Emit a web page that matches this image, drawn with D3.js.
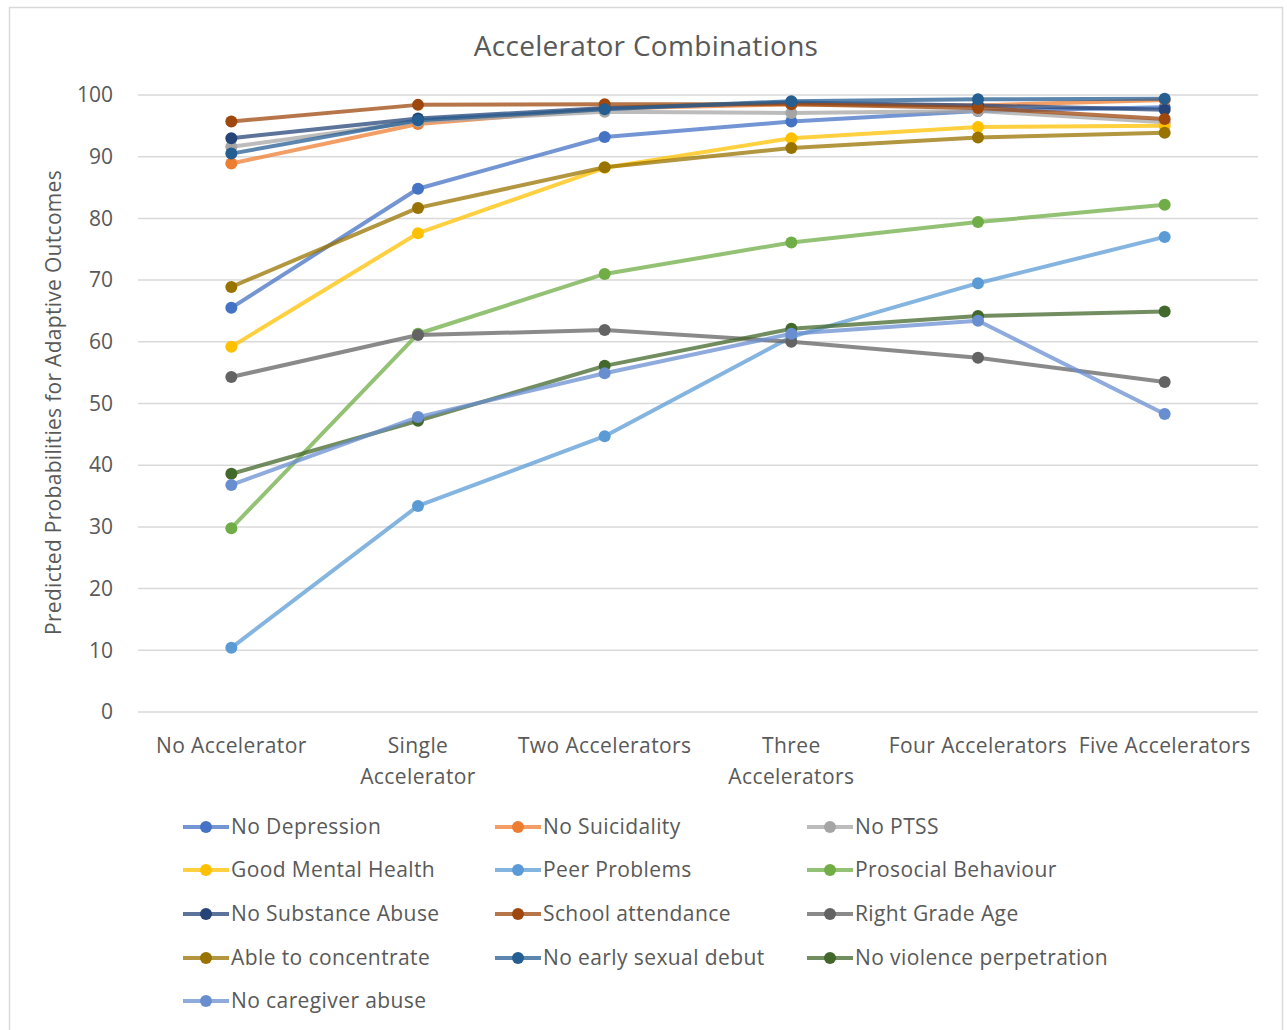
<!DOCTYPE html>
<html>
<head>
<meta charset="utf-8">
<script src="https://cdn.jsdelivr.net/npm/d3@7"></script>
<style>
  html, body { margin: 0; padding: 0; background: #fff; }
  svg { display: block; }
  text { font-family: "Open Sans", "Noto Sans", sans-serif; fill: #595959; }
</style>
</head>
<body>
<svg id="chart" width="1287" height="1030"></svg>
<script>
// Accelerator combinations on the x axis
const categories = [
  "No Accelerator", "Single Accelerator", "Two Accelerators",
  "Three Accelerators", "Four Accelerators", "Five Accelerators"
];
// How each category label wraps
const categoryLines = [
  ["No Accelerator"], ["Single", "Accelerator"], ["Two Accelerators"],
  ["Three", "Accelerators"], ["Four Accelerators"], ["Five Accelerators"]
];

const seriesNames = [
  "No Depression", "No Suicidality", "No PTSS",
  "Good Mental Health", "Peer Problems", "Prosocial Behaviour",
  "No Substance Abuse", "School attendance", "Right Grade Age",
  "Able to concentrate", "No early sexual debut", "No violence perpetration",
  "No caregiver abuse"
];

// Predicted probabilities (%) per series, one value per category
const noDepression      = [65.5, 84.8, 93.2, 95.7, 97.4, 98.0];
const noSuicidality     = [88.9, 95.3, 97.8, 98.5, 98.3, 99.2];
const noPTSS            = [91.6, 95.7, 97.3, 97.1, 97.4, 95.6];
const goodMentalHealth  = [59.2, 77.6, 88.2, 93.0, 94.8, 95.0];
const peerProblems      = [10.4, 33.4, 44.7, 60.8, 69.5, 77.0];
const prosocial         = [29.8, 61.3, 71.0, 76.1, 79.4, 82.2];
const noSubstanceAbuse  = [93.0, 96.2, 97.9, 98.8, 98.3, 97.6];
const schoolAttendance  = [95.7, 98.4, 98.5, 98.5, 97.9, 96.1];
const rightGradeAge     = [54.3, 61.1, 61.9, 60.0, 57.4, 53.5];
const ableToConcentrate = [68.9, 81.7, 88.3, 91.4, 93.1, 93.9];
const noEarlySexDebut   = [90.5, 95.9, 97.7, 99.0, 99.3, 99.4];
const noViolence        = [38.6, 47.2, 56.1, 62.1, 64.2, 64.9];
const noCaregiverAbuse  = [36.8, 47.8, 54.9, 61.3, 63.4, 48.3];

const yTicks = [0, 10, 20, 30, 40, 50, 60, 70, 80, 90, 100];

const seriesValues = [
  noDepression, noSuicidality, noPTSS, goodMentalHealth, peerProblems, prosocial,
  noSubstanceAbuse, schoolAttendance, rightGradeAge, ableToConcentrate,
  noEarlySexDebut, noViolence, noCaregiverAbuse
];

const colors = [
  "#4472C4", "#ED7D31", "#A5A5A5", "#FFC000", "#5B9BD5", "#70AD47",
  "#264478", "#9E480E", "#636363", "#997300", "#255E91", "#43682B", "#698ED0"
];

const series = seriesNames.map((name, i) => ({ name, values: seriesValues[i], color: colors[i] }));

const svg = d3.select("#chart");

// Chart frame
svg.append("path")
  .attr("d", "M9.5,1030 V7.5 H1282.5 V1030")
  .attr("fill", "none")
  .attr("stroke", "#d9d9d9")
  .attr("stroke-width", 1.5);

const plot = { left: 138, right: 1258, top: 95, bottom: 712 };

const x = d3.scalePoint()
  .domain(categories)
  .range([plot.left, plot.right])
  .padding(0.5);

const y = d3.scaleLinear()
  .domain([0, 100])
  .range([plot.bottom, plot.top]);

// Title
svg.append("text")
  .attr("x", 646)
  .attr("y", 56)
  .attr("text-anchor", "middle")
  .style("font-size", "28px")
  .style("letter-spacing", "0.3px")
  .text("Accelerator Combinations");

// Horizontal gridlines
svg.append("g")
  .selectAll("line")
  .data(yTicks)
  .join("line")
  .attr("x1", plot.left)
  .attr("x2", plot.right)
  .attr("y1", d => y(d))
  .attr("y2", d => y(d))
  .attr("stroke", "#d9d9d9")
  .attr("stroke-width", 1.5);

// Y axis labels
const yAxis = svg.append("g")
  .attr("transform", `translate(${plot.left},0)`)
  .call(d3.axisLeft(y).tickValues(yTicks).tickSize(0).tickPadding(25));
yAxis.select(".domain").remove();
yAxis.selectAll("text")
  .style("font-size", "21px")
  .style("font-family", "'Open Sans', 'Noto Sans', sans-serif")
  .attr("fill", "#595959");

// Y axis title
svg.append("text")
  .attr("transform", `translate(61,${(plot.top + plot.bottom) / 2 - 1}) rotate(-90)`)
  .attr("text-anchor", "middle")
  .style("font-size", "21px")
  .style("letter-spacing", "0.3px")
  .text("Predicted Probabilities for Adaptive Outcomes");

// X axis labels
const xLabels = svg.append("g")
  .selectAll("text")
  .data(categories)
  .join("text")
  .attr("x", d => x(d))
  .attr("y", 753)
  .attr("text-anchor", "middle")
  .style("font-size", "21px")
  .style("letter-spacing", "0.4px");
xLabels.each(function(d, i) {
  d3.select(this).selectAll("tspan")
    .data(categoryLines[i])
    .join("tspan")
    .attr("x", x(d))
    .attr("dy", (t, j) => j === 0 ? 0 : 31)
    .text(t => t);
});

// Lines and markers
const line = d3.line()
  .x((d, i) => x(categories[i]))
  .y(d => y(d));

const seriesG = svg.append("g")
  .selectAll("g")
  .data(series)
  .join("g");

seriesG.append("path")
  .attr("d", d => line(d.values))
  .attr("fill", "none")
  .attr("stroke", d => d.color)
  .attr("stroke-opacity", 0.75)
  .attr("stroke-width", 4)
  .attr("stroke-linejoin", "round")
  .attr("stroke-linecap", "round");

seriesG.selectAll("circle")
  .data(d => d.values.map((v, i) => ({ v, i, color: d.color })))
  .join("circle")
  .attr("cx", d => x(categories[d.i]))
  .attr("cy", d => y(d.v))
  .attr("r", 6)
  .attr("fill", d => d.color);

// Legend: three columns
const legendCols = [183, 495, 807];
const legendRows = [827, 870, 914, 958, 1001];
const legend = svg.append("g")
  .selectAll("g")
  .data(series)
  .join("g")
  .attr("transform", (d, i) => `translate(${legendCols[i % 3]},${legendRows[Math.floor(i / 3)]})`);

legend.append("line")
  .attr("x1", 0).attr("x2", 46)
  .attr("stroke", d => d.color)
  .attr("stroke-opacity", 0.75)
  .attr("stroke-width", 4);
legend.append("circle")
  .attr("cx", 23)
  .attr("r", 6)
  .attr("fill", d => d.color);
legend.append("text")
  .attr("x", 48)
  .attr("dy", "0.35em")
  .style("font-size", "21px")
  .style("letter-spacing", "0.4px")
  .text(d => d.name);
</script>
</body>
</html>
